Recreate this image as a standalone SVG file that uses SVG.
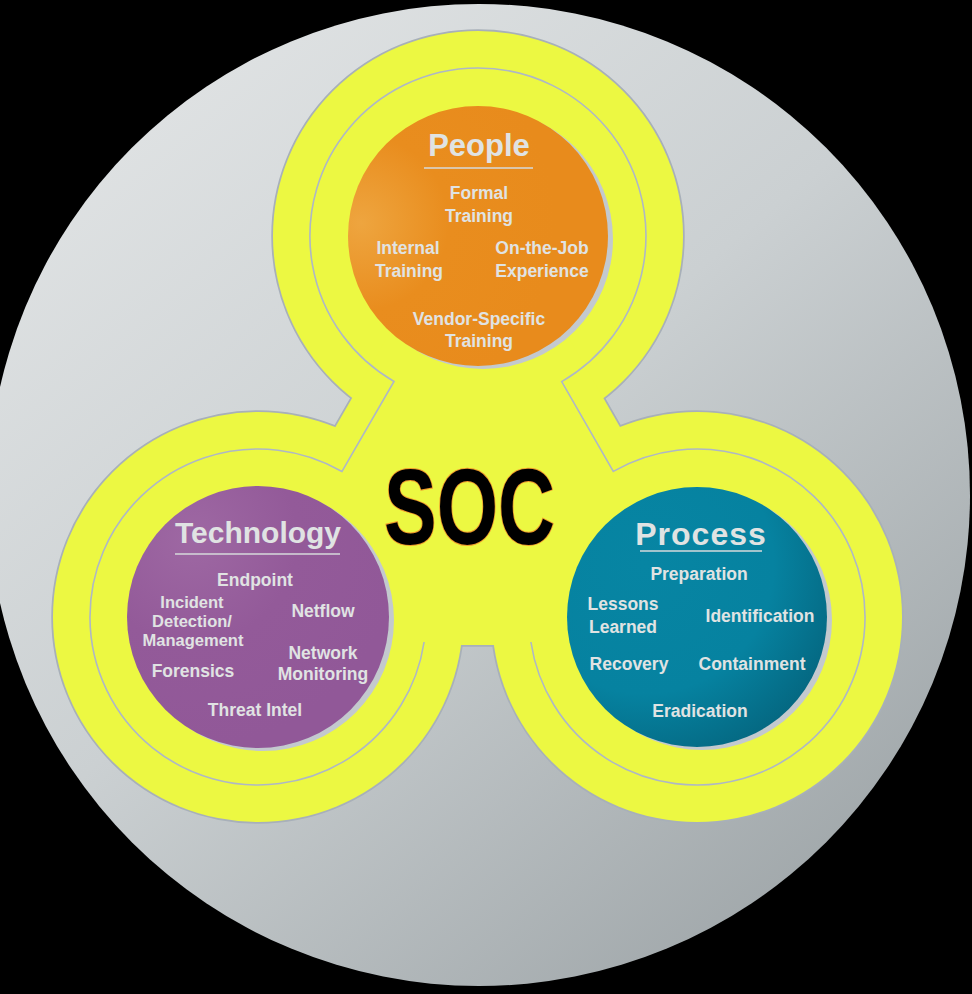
<svg xmlns="http://www.w3.org/2000/svg" xmlns:xlink="http://www.w3.org/1999/xlink" width="972" height="994" viewBox="0 0 972 994">
  <defs>
    <linearGradient id="gDisc" x1="0.15" y1="0.1" x2="0.85" y2="0.95">
      <stop offset="0" stop-color="#dfe2e3"/>
      <stop offset="0.45" stop-color="#cbd0d2"/>
      <stop offset="1" stop-color="#9ea5a8"/>
    </linearGradient>
    <radialGradient id="gOrange" cx="0.05" cy="0.45" r="0.75">
      <stop offset="0" stop-color="#eea53f"/>
      <stop offset="0.45" stop-color="#e98d1e"/>
      <stop offset="1" stop-color="#e88b1c"/>
    </radialGradient>
    <radialGradient id="gPurple" cx="0.25" cy="0.2" r="0.8">
      <stop offset="0" stop-color="#9e68a3"/>
      <stop offset="0.5" stop-color="#935a99"/>
      <stop offset="1" stop-color="#915898"/>
    </radialGradient>
    <radialGradient id="gTeal" cx="0.3" cy="0.3" r="0.9">
      <stop offset="0" stop-color="#0785a3"/>
      <stop offset="0.55" stop-color="#0682a0"/>
      <stop offset="1" stop-color="#045e76"/>
    </radialGradient>
    <!-- three lobes plus the central bridge triangle -->
    <g id="hubShape">
      <circle cx="478" cy="236" r="205"/>
      <circle cx="258" cy="617" r="205"/>
      <circle cx="697" cy="617" r="205"/>
      <polygon points="478,180 209.6,645 745.2,645"/>
    </g>
    <style>
      .item { font-family: "Liberation Sans", Arial, sans-serif; font-weight: bold; font-size: 17.5px; fill: #e0e3e3; text-anchor: middle; }
      .tight { font-size: 16.5px; }
      .title { font-family: "Liberation Sans", Arial, sans-serif; font-weight: bold; fill: #e0e3e3; text-anchor: middle; }
      .rule { stroke: #d6dadb; stroke-width: 1.6; }
      .shade { fill: #c3c9ce; }
      .ring { fill: none; stroke: #aeb7c6; stroke-width: 1.6; }
    </style>
  </defs>

  <!-- backdrop -->
  <rect x="0" y="0" width="972" height="994" fill="#000"/>
  <circle id="disc" cx="479" cy="495" r="491" fill="url(#gDisc)"/>

  <!-- yellow trefoil: outline pass then fill pass -->
  <g id="hub">
    <use xlink:href="#hubShape" fill="#a8b0b9" stroke="#a8b0b9" stroke-width="3.5"/>
    <use xlink:href="#hubShape" fill="#ecf842"/>
  </g>

  <!-- thin inner contour -->
  <g id="connectors">
    <path class="ring" d="M424.1,642 A168,168 0 1 1 342,471.5 L394,381.5 A168,168 0 1 1 561.7,381.6 L613.3,471.4 A168,168 0 1 1 530.9,642"/>
  </g>

  <g id="node-people">
    <circle class="shade" cx="483" cy="239" r="130"/>
    <circle cx="478" cy="236" r="130" fill="url(#gOrange)"/>
    <text class="title" x="479" y="156" font-size="31">People</text>
    <line class="rule" x1="424" y1="168" x2="533" y2="168"/>
    <text class="item" x="479" y="199">Formal</text>
    <text class="item" x="479" y="222">Training</text>
    <text class="item" x="408" y="254">Internal</text>
    <text class="item" x="409" y="277">Training</text>
    <text class="item" x="542" y="254">On-the-Job</text>
    <text class="item" x="542" y="277">Experience</text>
    <text class="item" x="479" y="325">Vendor-Specific</text>
    <text class="item" x="479" y="347">Training</text>
  </g>

  <g id="node-technology">
    <circle class="shade" cx="263" cy="620" r="131"/>
    <circle cx="258" cy="617" r="131" fill="url(#gPurple)"/>
    <text class="title" x="258" y="543" font-size="30">Technology</text>
    <line class="rule" x1="175" y1="554" x2="340" y2="554"/>
    <text class="item" x="255" y="586">Endpoint</text>
    <text class="item tight" x="192" y="608">Incident</text>
    <text class="item tight" x="192" y="627">Detection/</text>
    <text class="item tight" x="193" y="646">Management</text>
    <text class="item" x="323" y="617">Netflow</text>
    <text class="item" x="323" y="659">Network</text>
    <text class="item" x="323" y="680">Monitoring</text>
    <text class="item" x="193" y="677">Forensics</text>
    <text class="item" x="255" y="716">Threat Intel</text>
  </g>

  <g id="node-process">
    <circle class="shade" cx="702" cy="620" r="130"/>
    <circle cx="697" cy="617" r="130" fill="url(#gTeal)"/>
    <text class="title" x="701" y="545" font-size="32" font-weight="normal" letter-spacing="1">Process</text>
    <line class="rule" x1="640" y1="551" x2="762" y2="551"/>
    <text class="item" x="699" y="580">Preparation</text>
    <text class="item" x="623" y="610">Lessons</text>
    <text class="item" x="623" y="633">Learned</text>
    <text class="item" x="760" y="622">Identification</text>
    <text class="item" x="629" y="670">Recovery</text>
    <text class="item" x="752" y="670">Containment</text>
    <text class="item" x="700" y="717">Eradication</text>
  </g>

  <g id="node-soc">
    <text x="469.5" y="544" font-family="Liberation Sans, Arial, sans-serif" font-weight="bold" font-size="108" fill="#000" stroke="#ef9a2c" stroke-width="2" paint-order="stroke" text-anchor="middle" textLength="171" lengthAdjust="spacingAndGlyphs">SOC</text>
  </g>
</svg>
